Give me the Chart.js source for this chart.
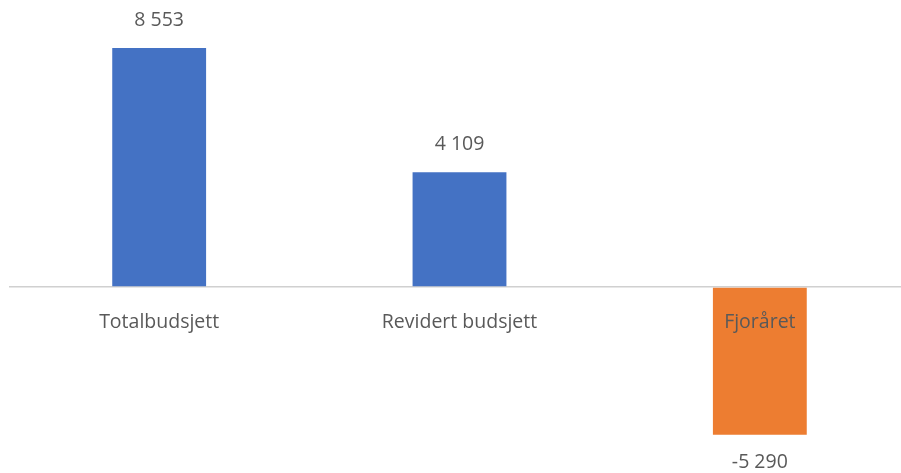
<!DOCTYPE html>
<html>
<head>
<meta charset="utf-8">
<script src="https://cdn.jsdelivr.net/npm/chart.js@4"></script>
<style>
  html, body { margin: 0; padding: 0; background: #fff; overflow: hidden; }
  #wrap { width: 910px; height: 473px; }
</style>
</head>
<body>
<div id="wrap"><canvas id="chart"></canvas></div>
<script>
// chart data
const categories = ['Totalbudsjett', 'Revidert budsjett', 'Fjoråret'];
const values = [8553, 4109, -5290];
const valueLabels = ['8 553', '4 109', '-5 290'];
const barColors = ['#4472c4', '#4472c4', '#ed7d31'];

const textColor = '#595959';
const fontFamily = '"Open Sans", sans-serif';

// draw value labels and category labels next to the bars
const labelPlugin = {
  id: 'labels',
  afterDatasetsDraw(chart) {
    const ctx = chart.ctx;
    const meta = chart.getDatasetMeta(0);
    const zeroY = chart.scales.y.getPixelForValue(0);
    ctx.save();
    ctx.fillStyle = textColor;
    ctx.font = '19.5px ' + fontFamily;
    ctx.textAlign = 'center';
    ctx.textBaseline = 'middle';
    meta.data.forEach(function(bar, i) {
      let y = values[i] >= 0 ? bar.y - 28 : bar.y + 28;
      ctx.fillText(valueLabels[i], bar.x, y);
      ctx.fillText(categories[i], bar.x, zeroY + 35);
    });
    ctx.restore();
  }
};

new Chart(document.getElementById('chart'), {
  type: 'bar',
  data: {
    labels: categories,
    datasets: [{
      data: values,
      backgroundColor: barColors,
      borderWidth: 0,
      barPercentage: 0.3125,
      categoryPercentage: 1
    }]
  },
  options: {
    responsive: true,
    maintainAspectRatio: false,
    animation: false,
    layout: { padding: { left: 9, right: 0, top: 35.5, bottom: 18.4 } },
    plugins: { legend: { display: false }, tooltip: { enabled: false } },
    scales: {
      x: { display: false },
      y: {
        min: -6000,
        max: 9000,
        ticks: { display: false, stepSize: 1000 },
        border: { display: false },
        grid: {
          drawTicks: false,
          lineWidth: 1.5,
          color: function(c) { return c.tick && c.tick.value === 0 ? '#d0d0d0' : 'rgba(0,0,0,0)'; }
        }
      }
    }
  },
  plugins: [labelPlugin]
});
</script>
</body>
</html>
